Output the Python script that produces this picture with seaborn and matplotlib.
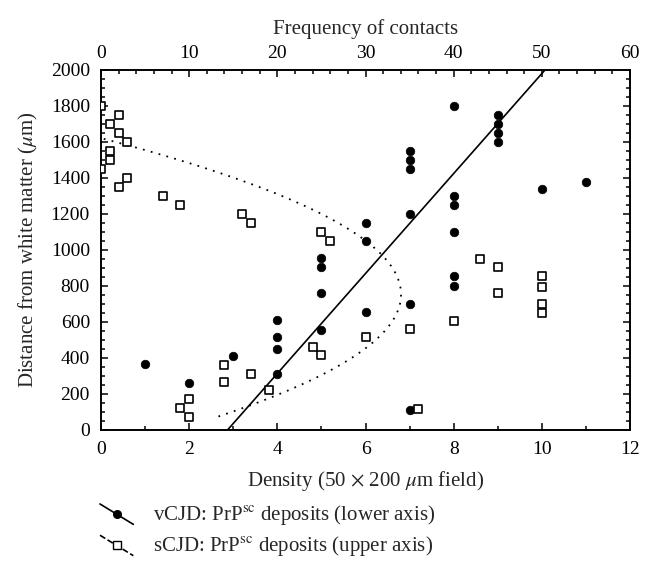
import numpy as np
import pandas as pd
import seaborn as sns
import matplotlib.pyplot as plt
from matplotlib.lines import Line2D
from matplotlib.legend_handler import HandlerBase
from matplotlib.ticker import MultipleLocator

# vCJD deposits: density per field (lower axis) vs distance from white matter
vcjd_density = [1, 2, 3, 4, 4, 4, 4, 5, 5, 5, 5, 6, 6, 6,
                7, 7, 7, 7, 7, 7, 8, 8, 8, 8, 8, 8, 9, 9, 9, 9, 10, 11]
vcjd_distance = [365, 260, 410, 610, 515, 450, 310, 955, 905, 760, 555, 1150, 1050, 655,
                 1550, 1500, 1450, 1200, 700, 110, 1800, 1300, 1250, 1100, 855, 800,
                 1750, 1700, 1650, 1600, 1340, 1380]

# sCJD deposits: frequency of contacts (upper axis) vs distance from white matter
scjd_freq = [0, 2, 1, 2, 3, 1, 1, 0, 3, 2, 7, 9, 16, 17, 25, 26,
             14, 14, 17, 19, 24, 25, 30, 9, 10, 10,
             43, 45, 45, 50, 50, 50, 50, 35, 40, 36]
scjd_distance = [1800, 1750, 1700, 1650, 1600, 1550, 1500, 1450, 1400, 1350, 1300, 1250, 1200, 1150, 1100, 1050,
                 360, 265, 310, 220, 460, 415, 515, 120, 170, 75,
                 950, 905, 760, 855, 795, 700, 650, 560, 605, 115]

vcjd = pd.DataFrame({"density": vcjd_density, "distance": vcjd_distance})
scjd = pd.DataFrame({"freq": scjd_freq, "distance": scjd_distance})

sns.set_style("ticks")
plt.rcParams['font.family'] = ['Liberation Serif', 'DejaVu Serif']
plt.rcParams['mathtext.fontset'] = 'stix'
plt.rcParams['axes.linewidth'] = 1.2
fs_tick = 14
fs_label = 15
fs_leg = 15

fig = plt.figure(figsize=(6.51, 5.80), dpi=100)
ax = fig.add_axes([101 / 651, 1 - 430 / 580, 529 / 651, 360 / 580])
ax2 = ax.twiny()

# fits: density as a function of distance (linear for vCJD, quadratic for sCJD)
lin = np.polyfit(vcjd["distance"], vcjd["density"], 1)
yy = np.linspace(0, 2000, 200)
ax.plot(np.polyval(lin, yy), yy, color="black", lw=1.2)

quad = np.polyfit(scjd["distance"], scjd["freq"], 2)
yq = np.linspace(min(scjd_distance), max(scjd_distance), 300)
ax2.plot(np.polyval(quad, yq), yq, color="black", lw=1.3, linestyle=(0, (1, 3.5)))

sns.scatterplot(data=vcjd, x="density", y="distance", ax=ax, marker="o",
                color="black", s=38, edgecolor="black", linewidth=0.5, zorder=3)
sns.scatterplot(data=scjd, x="freq", y="distance", ax=ax2, marker="s",
                facecolor="white", edgecolor="black", s=36, linewidth=1.2, zorder=3)

ax.set_xlim(0, 12)
ax.set_ylim(0, 2000)
ax2.set_xlim(0, 60)

ax.xaxis.set_major_locator(MultipleLocator(2))
ax.xaxis.set_minor_locator(MultipleLocator(1))
ax.yaxis.set_major_locator(MultipleLocator(200))
ax.yaxis.set_minor_locator(MultipleLocator(50))
ax2.xaxis.set_major_locator(MultipleLocator(10))
ax2.xaxis.set_minor_locator(MultipleLocator(2))

for a in (ax, ax2):
    a.tick_params(which="both", direction="in", colors="black", labelsize=fs_tick,
                  width=1.1, pad=8)
    a.tick_params(which="major", length=5)
    a.tick_params(which="minor", length=3)
    for sp in a.spines.values():
        sp.set_visible(True)
        sp.set_color("black")
        sp.set_linewidth(1.2)
ax.tick_params(axis="y", which="both", left=True, right=True)
ax.tick_params(axis="x", which="both", top=False)
ax2.tick_params(axis="x", pad=6)

ax.set_xlabel(r"Density (50 $\times$ 200 $\mu$m field)", fontsize=fs_label, labelpad=8)
ax.set_ylabel(r"Distance from white matter ($\mu$m)", fontsize=fs_label, labelpad=8)
ax2.set_xlabel("Frequency of contacts", fontsize=fs_label, labelpad=8)


class SlantHandler(HandlerBase):
    def create_artists(self, legend, orig_handle, xdescent, ydescent,
                       width, height, fontsize, trans):
        x0, x1 = -xdescent, -xdescent + width
        y0, y1 = -ydescent + height * 1.1, -ydescent - height * 0.3
        ln = Line2D([x0, x1], [y0, y1], color="black",
                    lw=orig_handle.get_linewidth(),
                    linestyle=orig_handle.get_linestyle(), transform=trans)
        mk = Line2D([(x0 + x1) / 2], [(y0 + y1) / 2], linestyle="none",
                    marker=orig_handle.get_marker(),
                    markersize=orig_handle.get_markersize(),
                    markerfacecolor=orig_handle.get_markerfacecolor(),
                    markeredgecolor="black", markeredgewidth=1.0, transform=trans)
        return [ln, mk]


h1 = Line2D([], [], color="black", lw=1.2, marker="o", markersize=5.5,
            markerfacecolor="black")
h2 = Line2D([], [], color="black", lw=1.2, linestyle=(0, (1, 4.5)), marker="s",
            markersize=5.5, markerfacecolor="white")
fig.legend([h1, h2],
           [r"vCJD: PrP$^{\rm sc}$ deposits (lower axis)",
            r"sCJD: PrP$^{\rm sc}$ deposits (upper axis)"],
           handler_map={Line2D: SlantHandler()},
           loc="upper left", bbox_to_anchor=(100 / 651, 1 - 503 / 580),
           frameon=False, fontsize=fs_leg, handlelength=1.6, handletextpad=0.95,
           labelspacing=0.35, borderpad=0, borderaxespad=0)

fig.savefig("out.png", dpi=100)
